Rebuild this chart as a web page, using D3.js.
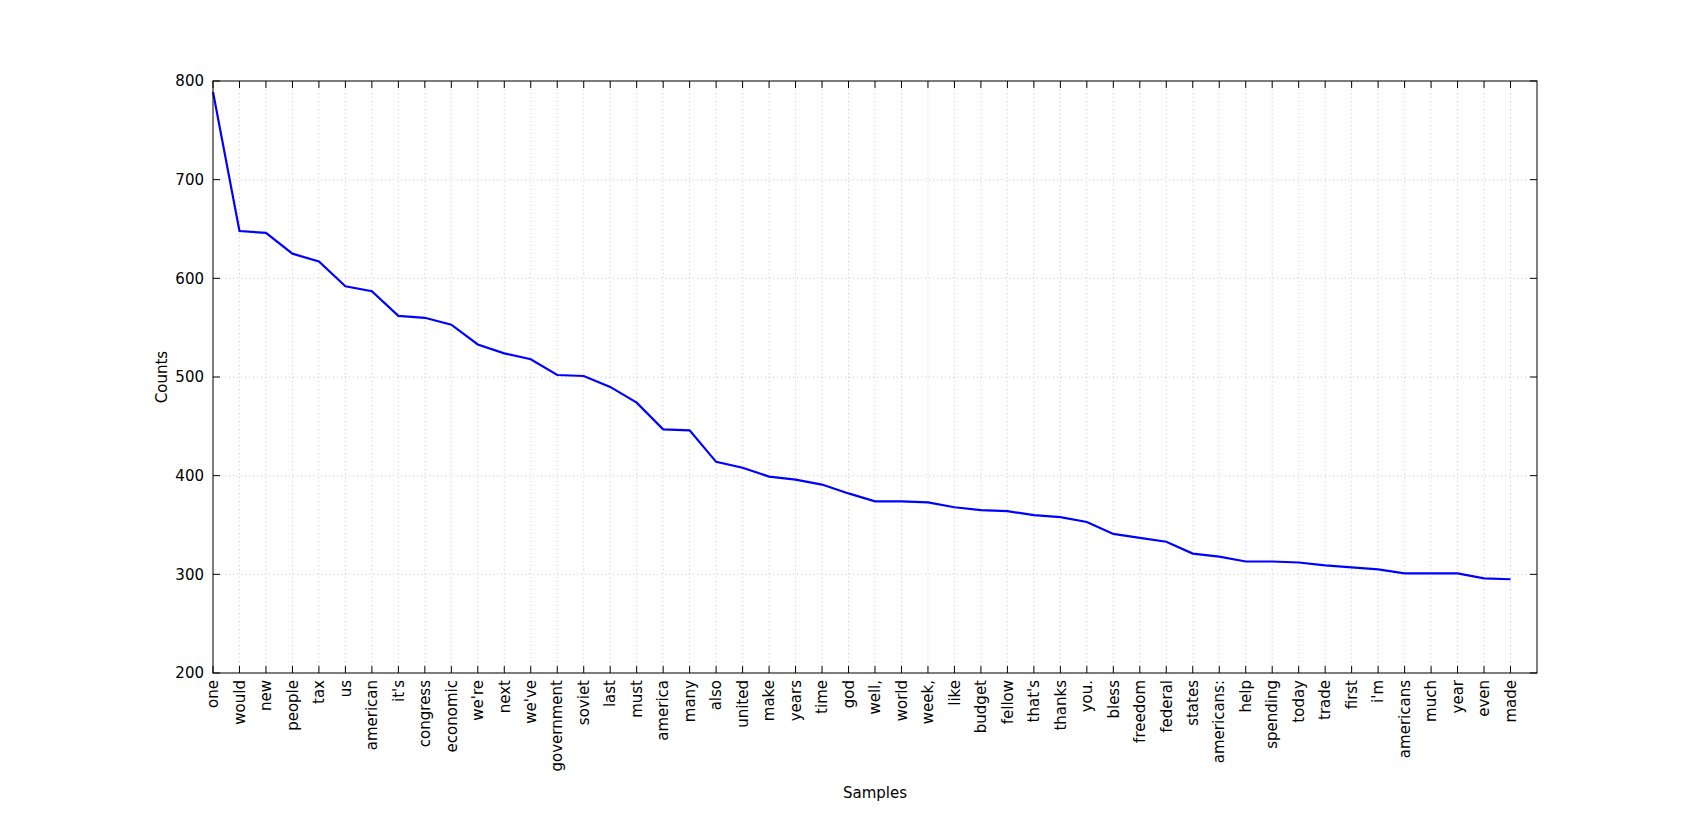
<!DOCTYPE html>
<html><head><meta charset="utf-8">
<script src="https://cdn.jsdelivr.net/npm/d3@7"></script>
<style>body{margin:0;background:#fff}text{font-family:"DejaVu Sans",sans-serif}</style>
</head><body><svg id="c" width="1707" height="813"></svg>
<script>
const samples=["one","would","new","people","tax","us","american","it's","congress","economic","we're","next","we've","government","soviet","last","must","america","many","also","united","make","years","time","god","well,","world","week,","like","budget","fellow","that's","thanks","you.","bless","freedom","federal","states","americans:","help","spending","today","trade","first","i'm","americans","much","year","even","made"];
const counts=[789,648,646,625,617,592,587,562,560,553,533,524,518,502,501,490,474,447,446,414,408,399,396,391,382,374,374,373,368,365,364,360,358,353,341,337,333,321,318,313,313,312,309,307,305,301,301,301,296,295];
const yTicks=[200,300,400,500,600,700,800];
const L=213,R=1537,T=81,B=673;
const FS=15;
const svg=d3.select("#c");
const x=d3.scaleLinear().domain([0,50]).range([L,R]);
const y=d3.scaleLinear().domain([200,800]).range([B,T]);
const g=svg.append("g");
g.selectAll(".vg").data(samples).enter().append("line").attr("x1",(d,i)=>x(i)).attr("x2",(d,i)=>x(i)).attr("y1",T).attr("y2",B).attr("stroke","#ccc").attr("stroke-dasharray","1,3");
g.selectAll(".hg").data(yTicks).enter().append("line").attr("x1",L).attr("x2",R).attr("y1",d=>y(d)).attr("y2",d=>y(d)).attr("stroke","#ccc").attr("stroke-dasharray","1,3");
svg.append("path").datum(counts).attr("fill","none").attr("stroke","#0000ff").attr("stroke-width",2.2)
 .attr("d",d3.line().x((d,i)=>x(i)).y(d=>y(d)));
svg.append("rect").attr("x",L).attr("y",T).attr("width",R-L).attr("height",B-T).attr("fill","none").attr("stroke","#000");
yTicks.forEach(v=>{
 svg.append("line").attr("x1",L).attr("x2",L+7).attr("y1",y(v)).attr("y2",y(v)).attr("stroke","#000");
 svg.append("line").attr("x1",R).attr("x2",R-7).attr("y1",y(v)).attr("y2",y(v)).attr("stroke","#000");
 svg.append("text").attr("x",L-9).attr("y",y(v)).attr("dy","0.35em").attr("text-anchor","end").attr("font-size",FS).text(v);
});
samples.forEach((s,i)=>{
 svg.append("line").attr("x1",x(i)).attr("x2",x(i)).attr("y1",B).attr("y2",B-7).attr("stroke","#000");
 svg.append("line").attr("x1",x(i)).attr("x2",x(i)).attr("y1",T).attr("y2",T+7).attr("stroke","#000");
 svg.append("text").attr("transform",`translate(${x(i)},${B+7}) rotate(-90)`).attr("dy","0.35em").attr("text-anchor","end").attr("font-size",FS).text(s);
});
svg.append("text").attr("x",(L+R)/2).attr("y",798).attr("text-anchor","middle").attr("font-size",FS).text("Samples");
svg.append("text").attr("transform",`translate(167,${(T+B)/2}) rotate(-90)`).attr("text-anchor","middle").attr("font-size",FS).text("Counts");
</script></body></html>
